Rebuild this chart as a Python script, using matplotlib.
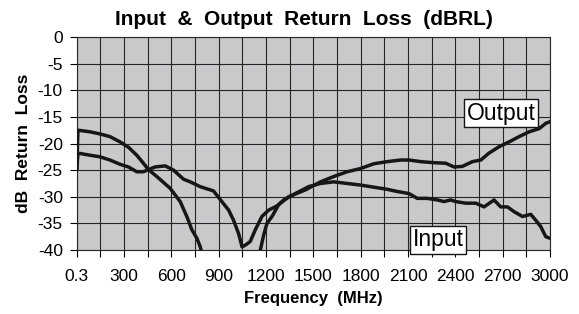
import matplotlib.pyplot as plt
import numpy as np

# Output return loss (MHz, dB)
out_freq = [0.3, 8, 85, 148, 211, 275, 328, 381, 423, 455, 508, 592, 656, 698, 730, 762, 783, 805,
            np.nan,
            1150, 1164, 1185, 1206, 1238, 1280, 1343, 1450, 1545, 1629, 1714, 1799, 1883, 1968, 2053,
            2106, 2180, 2264, 2339, 2391, 2444, 2508, 2561, 2613, 2677, 2740, 2804, 2867, 2931,
            2973, 3000]
out_db = [-25.0, -17.5, -17.8, -18.2, -18.7, -19.7, -20.7, -22.2, -23.7, -24.9, -26.2, -28.4, -30.9,
          -33.7, -36.2, -37.8, -39.4, -42.0,
          np.nan,
          -43.0, -40.0, -37.2, -35.0, -33.7, -31.5, -30.0, -28.7, -27.2, -26.2, -25.3, -24.7, -23.8,
          -23.4, -23.1, -23.1, -23.4, -23.6, -23.7, -24.4, -24.3, -23.4, -23.1, -21.8, -20.6, -19.7,
          -18.7, -17.8, -17.2, -16.2, -15.9]

# Input return loss (MHz, dB)
in_freq = [0.3, 8, 85, 148, 211, 275, 328, 381, 423, 455, 497, 561, 614, 677, 720, 783, 814, 867,
           920, 963, 994, 1026, 1048, 1068, 1100, 1132, 1174, 1217, 1270, 1312, 1386, 1470, 1545,
           1629, 1714, 1799, 1883, 1968, 2031, 2106, 2159, 2222, 2286, 2328, 2370, 2402, 2465, 2529,
           2582, 2645, 2687, 2730, 2772, 2825, 2878, 2909, 2941, 2973, 3000]
in_db = [-25.0, -21.8, -22.2, -22.5, -23.1, -23.9, -24.4, -25.3, -25.3, -24.9, -24.4, -24.2, -25.0,
         -26.7, -27.2, -28.1, -28.4, -28.9, -30.9, -32.5, -34.4, -36.9, -39.4, -39.1, -38.4, -36.2,
         -33.7, -32.5, -31.7, -30.6, -29.4, -28.1, -27.5, -27.2, -27.5, -27.8, -28.2, -28.6, -29.0,
         -29.4, -30.3, -30.3, -30.6, -30.9, -30.6, -30.9, -31.2, -31.2, -31.9, -30.6, -31.9, -31.9,
         -32.8, -33.7, -33.3, -34.4, -35.6, -37.5, -37.8]

xtick_vals = [0.3, 300, 600, 900, 1200, 1500, 1800, 2100, 2400, 2700, 3000]
xtick_labels = ['0.3', '300', '600', '900', '1200', '1500', '1800', '2100', '2400', '2700', '3000']
ytick_vals = [0, -5, -10, -15, -20, -25, -30, -35, -40]

plt.rcParams['font.family'] = ['Liberation Sans', 'DejaVu Sans']

fig = plt.figure(figsize=(5.79, 3.14), dpi=100)
ax = fig.add_axes([0.1325, 0.2038, 0.8175, 0.6782])
ax.set_facecolor('#c9c9cb')

ax.plot(out_freq, out_db, color='#161616', lw=2.5, solid_capstyle='round', zorder=3)
ax.plot(in_freq, in_db, color='#161616', lw=2.5, solid_capstyle='round', zorder=3)

ax.set_xlim(0.3, 3000)
ax.set_ylim(-40, 0)
ax.set_xticks(xtick_vals)
ax.set_xticklabels(xtick_labels)
ax.set_xticks(np.arange(150, 3000, 300), minor=True)
ax.set_yticks(ytick_vals)
ax.set_yticklabels([str(v) for v in ytick_vals])
ax.tick_params(which='both', direction='out', length=5, width=0.8, labelsize=12.5)
ax.tick_params(axis='x', pad=9)
ax.tick_params(axis='y', pad=5)
ax.grid(which='both', axis='x', color='#262626', lw=0.8)
ax.grid(which='major', axis='y', color='#262626', lw=0.8)
ax.set_axisbelow(True)
for s in ax.spines.values():
    s.set_color('#262626')
    s.set_linewidth(0.8)

ax.set_title('Input  &  Output  Return  Loss  (dBRL)', fontsize=15, fontweight='bold', pad=9, x=0.48)
ax.set_xlabel('Frequency  (MHz)', fontsize=12, fontweight='bold', labelpad=5)
ax.set_ylabel('dB  Return  Loss', fontsize=12.5, fontweight='bold', labelpad=5)

box = dict(boxstyle='square,pad=0.1', facecolor='white', edgecolor='#161616', lw=1)
ax.text(2688, -14.3, 'Output', fontsize=16.5, ha='center', va='center', bbox=box, zorder=5)
ax.text(2291, -38.1, 'Input', fontsize=16.5, ha='center', va='center', bbox=box, zorder=5,
        clip_on=False)

plt.savefig('out.png', dpi=100)
